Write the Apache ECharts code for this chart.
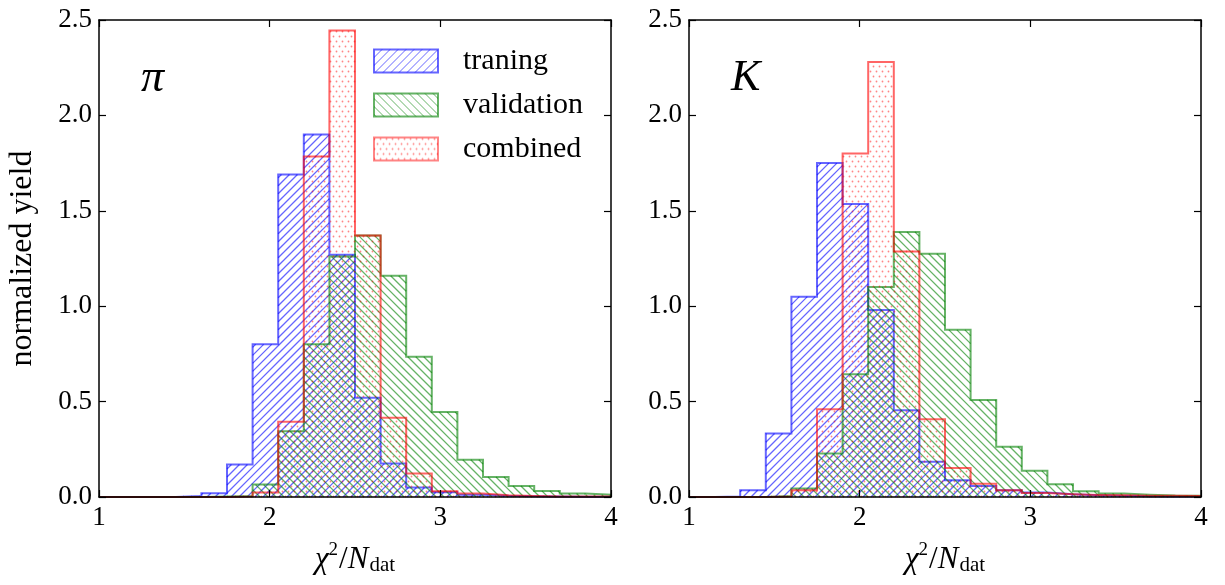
<!DOCTYPE html>
<html><head><meta charset="utf-8">
<script src="https://cdn.jsdelivr.net/npm/echarts@6.0.0/dist/echarts.min.js"></script>
<style>html,body{margin:0;padding:0;background:#fff}#c{width:1225px;height:585px}</style>
</head><body><div id="c"></div>
<script>
// ---- data ----
const binEdges = [1.00,1.15,1.30,1.45,1.60,1.75,1.90,2.05,2.20,2.35,2.50,2.65,2.80,2.95,3.10,3.25,3.40,3.55,3.70,3.85,4.00];
const xTicks = [1, 2, 3, 4];
const yTicks = [0, 0.5, 1.0, 1.5, 2.0, 2.5];
const seriesNames = ['traning', 'validation', 'combined'];
const panelLabels = ['π', 'K'];
const yAxisName = 'normalized yield';

const piTraining   = [0,0,0,0.005,0.02,0.17,0.80,1.69,1.90,1.27,0.52,0.175,0.05,0.025,0.012,0.006,0.004,0.002,0.001,0.001];
const piValidation = [0,0,0,0,0.002,0.005,0.065,0.345,0.80,1.26,1.37,1.16,0.735,0.445,0.195,0.105,0.058,0.032,0.018,0.012];
const piCombined   = [0,0,0,0,0,0.002,0.023,0.395,1.785,2.445,1.37,0.415,0.123,0.03,0.018,0.009,0.005,0.003,0.002,0.002];

const kTraining    = [0,0.003,0.035,0.333,1.05,1.75,1.535,0.98,0.455,0.185,0.088,0.058,0.035,0.023,0.014,0.009,0.006,0.004,0.003,0.002];
const kValidation  = [0,0,0,0.005,0.044,0.228,0.643,1.10,1.389,1.275,0.876,0.508,0.263,0.137,0.067,0.03,0.018,0.012,0.008,0.007];
const kCombined    = [0,0,0,0.002,0.035,0.46,1.80,2.28,1.287,0.408,0.152,0.07,0.035,0.021,0.015,0.011,0.009,0.007,0.006,0.005];

const panels = [
  [piTraining, piValidation, piCombined],
  [kTraining, kValidation, kCombined]
];

// ---- styles ----
const FONT = 'Liberation Serif';
const colors = ['rgba(0,0,255,0.6)', 'rgba(0,128,0,0.6)', 'rgba(255,0,0,0.6)'];
const hatchKinds = ['ne', 'nw', 'dots'];
const gridLefts = [99, 689];
const GRID_TOP = 20, GRID_W = 512, GRID_H = 477;
const HS = 8;                 // line hatch spacing in px
const DX = 6, DY = 5;         // dot hatch spacing in px

function makePattern(kind, color) {
  const c = document.createElement('canvas');
  const w = kind === 'dots' ? DX : HS, h = kind === 'dots' ? 2 * DY : HS;
  c.width = w; c.height = h;
  const g = c.getContext('2d');
  g.strokeStyle = color; g.fillStyle = color; g.lineWidth = 1;
  if (kind === 'ne') {
    for (const x0 of [-HS, 0, HS]) { g.beginPath(); g.moveTo(x0, HS); g.lineTo(x0 + HS, 0); g.stroke(); }
  } else if (kind === 'nw') {
    for (const x0 of [-HS, 0, HS]) { g.beginPath(); g.moveTo(x0 + 3, 0); g.lineTo(x0 + 3 + HS, HS); g.stroke(); }
  } else {
    for (const [x, y] of [[0.5, 1.5], [3.5, 6.5], [6.5, 1.5]]) { g.beginPath(); g.arc(x, y, 0.9, 0, Math.PI * 2); g.fill(); }
  }
  return { image: c, repeat: 'repeat' };
}
const patterns = hatchKinds.map((k, i) => makePattern(k, colors[i]));

function stepPoints(vals) {
  const n = binEdges.length - 1;
  const pts = [[binEdges[0], 0]];
  vals.forEach((v, i) => pts.push([binEdges[i], v]));
  pts.push([binEdges[n], vals[n - 1]]);
  pts.push([binEdges[n], 0]);
  return pts;
}

const axisLine = { show: true, onZero: false, lineStyle: { color: '#000', width: 1.5 } };
const axisTick = { show: true, inside: true, length: 7, lineStyle: { color: '#000', width: 1.2 } };

const grid = [], xAxis = [], yAxis = [], title = [];
panels.forEach((sets, p) => {
  grid.push({ left: gridLefts[p], top: GRID_TOP, width: GRID_W, height: GRID_H });
  xAxis.push({
    type: 'value', gridIndex: p, min: xTicks[0], max: xTicks[xTicks.length - 1], interval: 1,
    position: 'bottom', axisLine, axisTick, splitLine: { show: false }, z: 10,
    axisLabel: { color: '#000', fontSize: 27, fontFamily: FONT, margin: 7 },
    name: '{i|χ}{sup|2}{r|/}{i|N}{sub|dat}', nameLocation: 'middle', nameGap: 44,
    nameTextStyle: {
      rich: {
        i: { fontFamily: FONT, fontStyle: 'italic', fontSize: 31, color: '#000' },
        r: { fontFamily: FONT, fontSize: 31, color: '#000' },
        sup: { fontFamily: FONT, fontSize: 19, color: '#000', padding: [0, 1, 18, 0] },
        sub: { fontFamily: FONT, fontSize: 21, color: '#000', padding: [12, 0, 0, 1] }
      }
    }
  });
  xAxis.push({
    type: 'value', gridIndex: p, min: xTicks[0], max: xTicks[xTicks.length - 1], interval: 1,
    position: 'top', axisLine, axisTick, splitLine: { show: false }, axisLabel: { show: false }, z: 10
  });
  yAxis.push({
    type: 'value', gridIndex: p, min: yTicks[0], max: yTicks[yTicks.length - 1], interval: 0.5,
    position: 'left', axisLine, axisTick, splitLine: { show: false }, z: 10,
    axisLabel: { color: '#000', fontSize: 27, fontFamily: FONT, margin: 7, formatter: v => v.toFixed(1) },
    name: p === 0 ? yAxisName : '', nameLocation: 'middle', nameGap: 60, nameRotate: 90,
    nameTextStyle: { color: '#000', fontSize: 32, fontFamily: FONT }
  });
  yAxis.push({
    type: 'value', gridIndex: p, min: yTicks[0], max: yTicks[yTicks.length - 1], interval: 0.5,
    position: 'right', axisLine, axisTick, splitLine: { show: false }, axisLabel: { show: false }, z: 10
  });
  title.push({
    text: panelLabels[p], left: gridLefts[p] + 42, top: 56, padding: 0,
    textStyle: { fontFamily: FONT, fontStyle: 'italic', fontWeight: 'normal', fontSize: p === 0 ? 46 : 44, color: '#000' }
  });
});

function outlineSeries(p, s, vals) {
  return {
    type: 'line', name: seriesNames[s], xAxisIndex: 2 * p, yAxisIndex: 2 * p,
    data: stepPoints(vals), step: 'end', symbol: 'none', showSymbol: false, silent: true,
    lineStyle: { color: colors[s], width: 2, join: 'miter', shadowBlur: 0 },
    itemStyle: { color: colors[s] },
    emphasis: { disabled: true }, z: 3
  };
}

const legend = {
  orient: 'vertical', left: 373, top: 46, padding: 0, itemGap: 14,
  itemWidth: 64, itemHeight: 23, icon: 'rect', selectedMode: false,
  textStyle: { fontFamily: FONT, fontSize: 30, color: '#000', padding: [0, 0, 0, 20] },
  data: seriesNames.map((n, i) => ({
    name: n, icon: 'rect',
    itemStyle: { color: patterns[i], borderColor: colors[i], borderWidth: 2 }
  }))
};

const chart = echarts.init(document.getElementById('c'), null, { renderer: 'canvas' });

// pass 1: axes + outlines
const baseSeries = [];
panels.forEach((sets, p) => sets.forEach((vals, s) => baseSeries.push(outlineSeries(p, s, vals))));
chart.setOption({ animation: false, backgroundColor: '#fff', title, grid, xAxis, yAxis, legend, series: baseSeries });

// pass 2: hatch decoration inside every bin, computed in pixel space through the axes' own scales
function hatchData(p, kind, vals) {
  const fin = { gridIndex: p };
  const toData = (X, Y) => chart.convertFromPixel(fin, [X, Y]);
  const out = [];
  vals.forEach((v, i) => {
    if (!(v > 0)) return;
    const a = chart.convertToPixel(fin, [binEdges[i], 0]);
    const b = chart.convertToPixel(fin, [binEdges[i + 1], v]);
    const x0 = a[0], x1 = b[0], yT = b[1], yB = a[1];
    if (kind === 'ne') {          // lines x + y = c
      for (let c = Math.ceil((x0 + yT) / HS) * HS; c <= x1 + yB; c += HS) {
        const xa = Math.max(x0, c - yB), xb = Math.min(x1, c - yT);
        if (xb > xa) out.push(toData(xa, c - xa), toData(xb, c - xb), ['-', '-']);
      }
    } else if (kind === 'nw') {   // lines x - y = c
      for (let c = Math.ceil((x0 - yB - 3) / HS) * HS + 3; c <= x1 - yT; c += HS) {
        const xa = Math.max(x0, yT + c), xb = Math.min(x1, yB + c);
        if (xb > xa) out.push(toData(xa, xa - c), toData(xb, xb - c), ['-', '-']);
      }
    } else {                      // staggered dots
      for (let j = Math.ceil((yT - 1.5) / DY); j * DY + 1.5 <= yB; j++) {
        const y = j * DY + 1.5;
        const off = (((j % 2) + 2) % 2) * (DX / 2) + 0.5;
        for (let k = Math.ceil((x0 - off) / DX); k * DX + off <= x1; k++) out.push(toData(k * DX + off, y));
      }
    }
  });
  return out;
}

const allSeries = [];
panels.forEach((sets, p) => sets.forEach((vals, s) => {
  const kind = hatchKinds[s];
  const data = hatchData(p, kind, vals);
  if (kind === 'dots') {
    allSeries.push({
      type: 'scatter', name: seriesNames[s], xAxisIndex: 2 * p, yAxisIndex: 2 * p,
      data, symbol: 'circle', symbolSize: 1.8, silent: true, z: 3,
      itemStyle: { color: colors[s], borderWidth: 0, shadowBlur: 0 }, emphasis: { disabled: true }
    });
  } else {
    allSeries.push({
      type: 'line', name: seriesNames[s], xAxisIndex: 2 * p, yAxisIndex: 2 * p,
      data, symbol: 'none', showSymbol: false, silent: true, connectNulls: false, z: 3,
      lineStyle: { color: colors[s], width: 1.3, shadowBlur: 0 },
      itemStyle: { color: colors[s] }, emphasis: { disabled: true }
    });
  }
  allSeries.push(outlineSeries(p, s, vals));
}));
chart.setOption({ series: allSeries }, { replaceMerge: ['series'] });
</script>
</body></html>
